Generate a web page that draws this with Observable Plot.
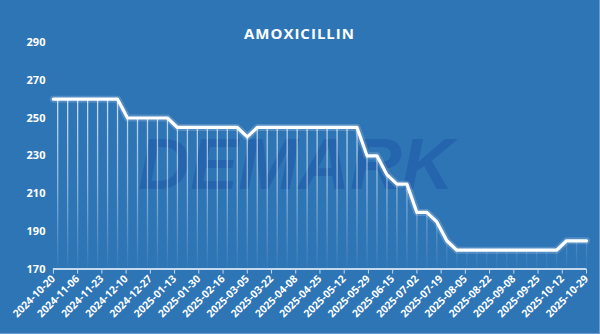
<!DOCTYPE html>
<html><head><meta charset="utf-8">
<script src="https://cdn.jsdelivr.net/npm/d3@7"></script>
<script src="https://cdn.jsdelivr.net/npm/@observablehq/plot@0.6"></script>
<style>
html,body{margin:0;padding:0;}
#wrap{position:relative;width:600px;height:334px;background:#2E75B6;box-sizing:border-box;border-right:1px solid #6b9ccd;border-bottom:1px solid #6b9ccd;overflow:hidden;}
#title{height:34px;line-height:0;text-align:center;color:#fff;font:bold 15px "Open Sans",sans-serif;letter-spacing:1px;}
#title span{position:relative;top:23px;}
svg{display:block;}
</style>
</head><body>
<div id="wrap"><div id="title"><span>AMOXICILLIN</span></div><div id="chart"></div></div>
<script>
const chartTitle = "AMOXICILLIN";
const dates = ["2024-10-20","2024-10-23","2024-10-30","2024-11-06","2024-11-13","2024-11-20","2024-11-27","2024-12-04","2024-12-11","2024-12-18","2024-12-25","2025-01-01","2025-01-08","2025-01-15","2025-01-22","2025-01-29","2025-02-05","2025-02-12","2025-02-19","2025-02-26","2025-03-05","2025-03-12","2025-03-19","2025-03-26","2025-04-02","2025-04-09","2025-04-16","2025-04-23","2025-04-30","2025-05-07","2025-05-14","2025-05-21","2025-05-28","2025-06-04","2025-06-11","2025-06-18","2025-06-25","2025-07-02","2025-07-09","2025-07-16","2025-07-23","2025-07-30","2025-08-06","2025-08-13","2025-08-20","2025-08-27","2025-09-03","2025-09-10","2025-09-17","2025-09-24","2025-10-01","2025-10-08","2025-10-15","2025-10-22","2025-10-29"];
const prices = [260,260,260,260,260,260,260,260,250,250,250,250,250,245,245,245,245,245,245,245,240,245,245,245,245,245,245,245,245,245,245,245,230,230,220,215,215,200,200,195,185,180,180,180,180,180,180,180,180,180,180,180,185,185,185];
const xTickLabels = ["2024-10-20","2024-11-06","2024-11-23","2024-12-10","2024-12-27","2025-01-13","2025-01-30","2025-02-16","2025-03-05","2025-03-22","2025-04-08","2025-04-25","2025-05-12","2025-05-29","2025-06-15","2025-07-02","2025-07-19","2025-08-05","2025-08-22","2025-09-08","2025-09-25","2025-10-12","2025-10-29"];
const yTicks = [170,190,210,230,250,270,290];
const watermark = "DEMARK";

const parse = d3.utcParse("%Y-%m-%d");
const data = dates.map((d,i)=>({date: parse(d), value: prices[i], i}));
const drops = data.filter(d => d.i > 0);

const chart = Plot.plot({
  width: 600, height: 300,
  marginTop: 8, marginBottom: 65, marginLeft: 53, marginRight: 13,
  style: {background: "transparent", color: "#fff", fontFamily: "'Open Sans', sans-serif", fontWeight: "bold", fontSize: "10.5px"},
  x: {type: "utc", domain: [parse(xTickLabels[0]), parse(xTickLabels[xTickLabels.length-1])]},
  y: {domain: [170, 290]},
  marks: [
    Plot.text([watermark], {frameAnchor: "middle", dx: -24, dy: 10, fontSize: 72, fontStyle: "italic", fontWeight: 900, fill: "#2464ac", fillOpacity: 0.9, fontFamily: "'Liberation Sans', sans-serif", letterSpacing: -3}),
    Plot.ruleX(drops, {x: "date", y1: 170, y2: "value", stroke: "url(#dropGrad)", strokeWidth: 1.3}),
    Plot.line(data, {x: "date", y: "value", stroke: "#fff", strokeWidth: 7, strokeOpacity: 0.18, curve: "linear"}),
    Plot.line(data, {x: "date", y: "value", stroke: "#fff", strokeWidth: 3.2, curve: "linear"}),
    Plot.axisY({ticks: yTicks, tickSize: 0, tickPadding: 8, fontSize: 11, fontWeight: "bold", label: null}),
    Plot.ruleY([170], {stroke: "#c5d9ee", strokeWidth: 2}),
    Plot.axisX({ticks: xTickLabels.map(parse), tickFormat: d3.utcFormat("%Y-%m-%d"), tickSize: 5, tickRotate: -45, stroke: "#c5d9ee", tickPadding: 3, fontSize: 10.5, fontWeight: "bold", label: null})
  ]
});
const ns = "http://www.w3.org/2000/svg";
const defs = document.createElementNS(ns, "defs");
const ys = chart.scale("y");
defs.innerHTML = `<linearGradient id="dropGrad" gradientUnits="userSpaceOnUse" x1="0" x2="0" y1="${ys.apply(265)}" y2="${ys.apply(170)}">
<stop offset="0" stop-color="#fff" stop-opacity="0.8"/>
<stop offset="0.55" stop-color="#fff" stop-opacity="0.45"/>
<stop offset="1" stop-color="#fff" stop-opacity="0.02"/></linearGradient>`;
chart.insertBefore(defs, chart.firstChild);
document.getElementById("chart").appendChild(chart);
</script>
</body></html>
